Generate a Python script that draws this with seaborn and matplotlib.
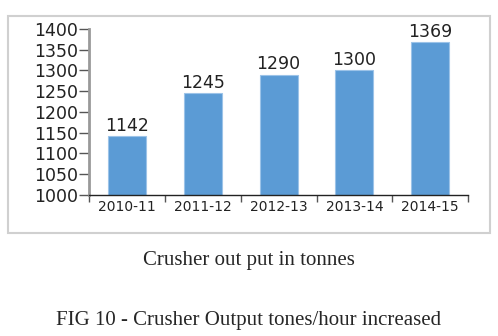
import matplotlib
matplotlib.use("Agg")
import matplotlib.pyplot as plt
import seaborn as sns
import pandas as pd
from matplotlib.patches import Rectangle

years = ["2010-11", "2011-12", "2012-13", "2013-14", "2014-15"]
output = [1142, 1245, 1290, 1300, 1369]
yticks = [1000, 1050, 1100, 1150, 1200, 1250, 1300, 1350, 1400]

sns.set_style("white")
plt.rcParams['font.family'] = ['DejaVu Sans']

fig = plt.figure(figsize=(4.98, 3.36), dpi=100)
fig.patches.append(Rectangle((0.016, 0.307), 0.968, 0.645, transform=fig.transFigure,
                             fill=False, edgecolor="#d0d0d0", linewidth=1.5))
ax = fig.add_axes([0.179, 0.420, 0.761, 0.494])
df = pd.DataFrame({"year": years, "output": output})
sns.barplot(data=df, x="year", y="output", color="#5B9BD5", width=0.5,
            edgecolor="#9cc3e8", linewidth=0.8, ax=ax, saturation=1)
ax.set_ylim(1000, 1400)
ax.set_xlim(-0.5, 4.5)
ax.set_yticks(yticks)
ax.set_yticklabels([str(v) for v in yticks], fontsize=12.5, color="#222222",
                   family="DejaVu Sans")
ax.set_xticks([i - 0.5 for i in range(len(years) + 1)])
ax.set_xticklabels([])
ax.set_xticks(range(len(years)), minor=True)
ax.set_xticklabels(years, minor=True, fontsize=10, color="#222222", family="DejaVu Sans")
ax.tick_params(axis="x", which="minor", length=0, pad=4, bottom=False)
ax.tick_params(axis="x", which="major", length=5, width=1, direction="out",
               color="#555555", bottom=True)
ax.tick_params(axis="y", length=7, width=1, direction="out", color="#555555", pad=1,
               left=True)
ax.set_xlabel("")
ax.set_ylabel("")
for s in ["top", "right"]:
    ax.spines[s].set_visible(False)
ax.spines["left"].set_color("#999999")
ax.spines["left"].set_linewidth(2)
ax.spines["bottom"].set_color("#222222")
ax.spines["bottom"].set_linewidth(1)
for i, v in enumerate(output):
    ax.text(i, v + 3, str(v), ha="center", va="bottom", fontsize=12.5, color="#222222",
            family="DejaVu Sans")

fig.text(0.5, 1 - 261/336, "Crusher out put in tonnes", ha="center", va="center",
         family="Liberation Serif", fontsize=15)
fig.text(0.5, 1 - 320/336, "FIG 10 - Crusher Output tones/hour increased", ha="center",
         va="center", family="Liberation Serif", fontsize=15)
fig.savefig("out.png", dpi=100)
